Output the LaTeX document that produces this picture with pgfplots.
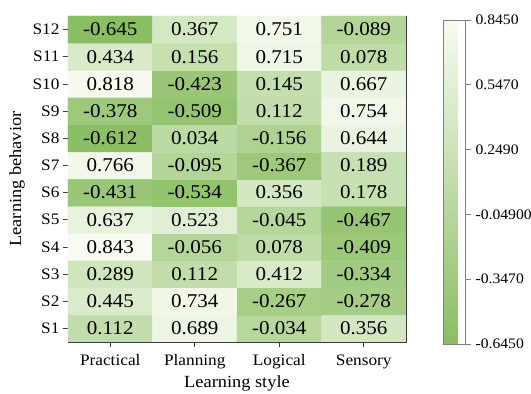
\documentclass[border=0pt]{standalone}
\usepackage{fontspec}
\setmainfont{Liberation Serif}[FakeStretch=1.08]
\usepackage{pgfplots}
\pgfplotsset{compat=1.18}
\definecolor{axgray}{RGB}{60,60,60}
\begin{document}
\begin{tikzpicture}[x=1pt,y=1pt]
\useasboundingbox (0,0) rectangle (531,394);
\begin{axis}[
  at={(68pt,52pt)}, anchor=south west,
  width=338pt, height=326pt, scale only axis,
  xmin=-0.5, xmax=3.5, ymin=0.5, ymax=12.5,
  xtick={0,1,2,3}, xticklabels={Practical,Planning,Logical,Sensory},
  ytick={1,2,3,4,5,6,7,8,9,10,11,12},
  yticklabels={S1,S2,S3,S4,S5,S6,S7,S8,S9,S10,S11,S12},
  tick align=outside, tick pos=left,
  major tick length=5pt,
  every tick/.style={axgray, line width=0.8pt},
  axis line style={axgray, line width=0.8pt},
  xticklabel style={font=\fontsize{16}{18}\selectfont, yshift=-4pt},
  yticklabel style={font=\fontsize{16}{18}\selectfont},
  xlabel={Learning style}, ylabel={Learning behavior},
  xlabel style={font=\fontsize{17}{19}\selectfont, yshift=0pt},
  ylabel style={font=\fontsize{17}{19}\selectfont, yshift=1pt},
  colormap={greens}{rgb255=(138,190,98) rgb255=(247,251,241)},
  point meta min=-0.645, point meta max=0.845,
  colorbar,
  colorbar style={
    at={(parent axis.north east)}, anchor=north west,
    xshift=29pt, yshift=-4pt,
    width=22pt, height=324pt, scale only axis,
    ytick={-0.645,-0.347,-0.049,0.249,0.547,0.845},
    yticklabels={-0.6450,-0.3470,-0.04900,0.2490,0.5470,0.8450},
    yticklabel style={font=\fontsize{14.5}{16}\selectfont, xshift=1.5pt},
    ytick pos=right, tick align=outside, major tick length=5pt,
    every tick/.style={gray, line width=0.8pt},
    axis line style={gray, line width=0.8pt},
  },
]
\addplot[matrix plot*, mesh/cols=4, mesh/ordering=x varies, point meta=explicit]
table[meta=c]{
x y c
0 1 0.112
1 1 0.689
2 1 -0.034
3 1 0.356
0 2 0.445
1 2 0.734
2 2 -0.267
3 2 -0.278
0 3 0.289
1 3 0.112
2 3 0.412
3 3 -0.334
0 4 0.843
1 4 -0.056
2 4 0.078
3 4 -0.409
0 5 0.637
1 5 0.523
2 5 -0.045
3 5 -0.467
0 6 -0.431
1 6 -0.534
2 6 0.356
3 6 0.178
0 7 0.766
1 7 -0.095
2 7 -0.367
3 7 0.189
0 8 -0.612
1 8 0.034
2 8 -0.156
3 8 0.644
0 9 -0.378
1 9 -0.509
2 9 0.112
3 9 0.754
0 10 0.818
1 10 -0.423
2 10 0.145
3 10 0.667
0 11 0.434
1 11 0.156
2 11 0.715
3 11 0.078
0 12 -0.645
1 12 0.367
2 12 0.751
3 12 -0.089
};
\addplot[only marks, mark=none, point meta=explicit symbolic,
  nodes near coords={\pgfplotspointmeta},
  nodes near coords align={center},
  every node near coord/.append style={font=\fontsize{19.5}{21}\selectfont, text=black, inner sep=0pt}]
table[meta=lab]{
x y lab
0 1 0.112
1 1 0.689
2 1 -0.034
3 1 0.356
0 2 0.445
1 2 0.734
2 2 -0.267
3 2 -0.278
0 3 0.289
1 3 0.112
2 3 0.412
3 3 -0.334
0 4 0.843
1 4 -0.056
2 4 0.078
3 4 -0.409
0 5 0.637
1 5 0.523
2 5 -0.045
3 5 -0.467
0 6 -0.431
1 6 -0.534
2 6 0.356
3 6 0.178
0 7 0.766
1 7 -0.095
2 7 -0.367
3 7 0.189
0 8 -0.612
1 8 0.034
2 8 -0.156
3 8 0.644
0 9 -0.378
1 9 -0.509
2 9 0.112
3 9 0.754
0 10 0.818
1 10 -0.423
2 10 0.145
3 10 0.667
0 11 0.434
1 11 0.156
2 11 0.715
3 11 0.078
0 12 -0.645
1 12 0.367
2 12 0.751
3 12 -0.089
};
\end{axis}
\end{tikzpicture}
\end{document}
